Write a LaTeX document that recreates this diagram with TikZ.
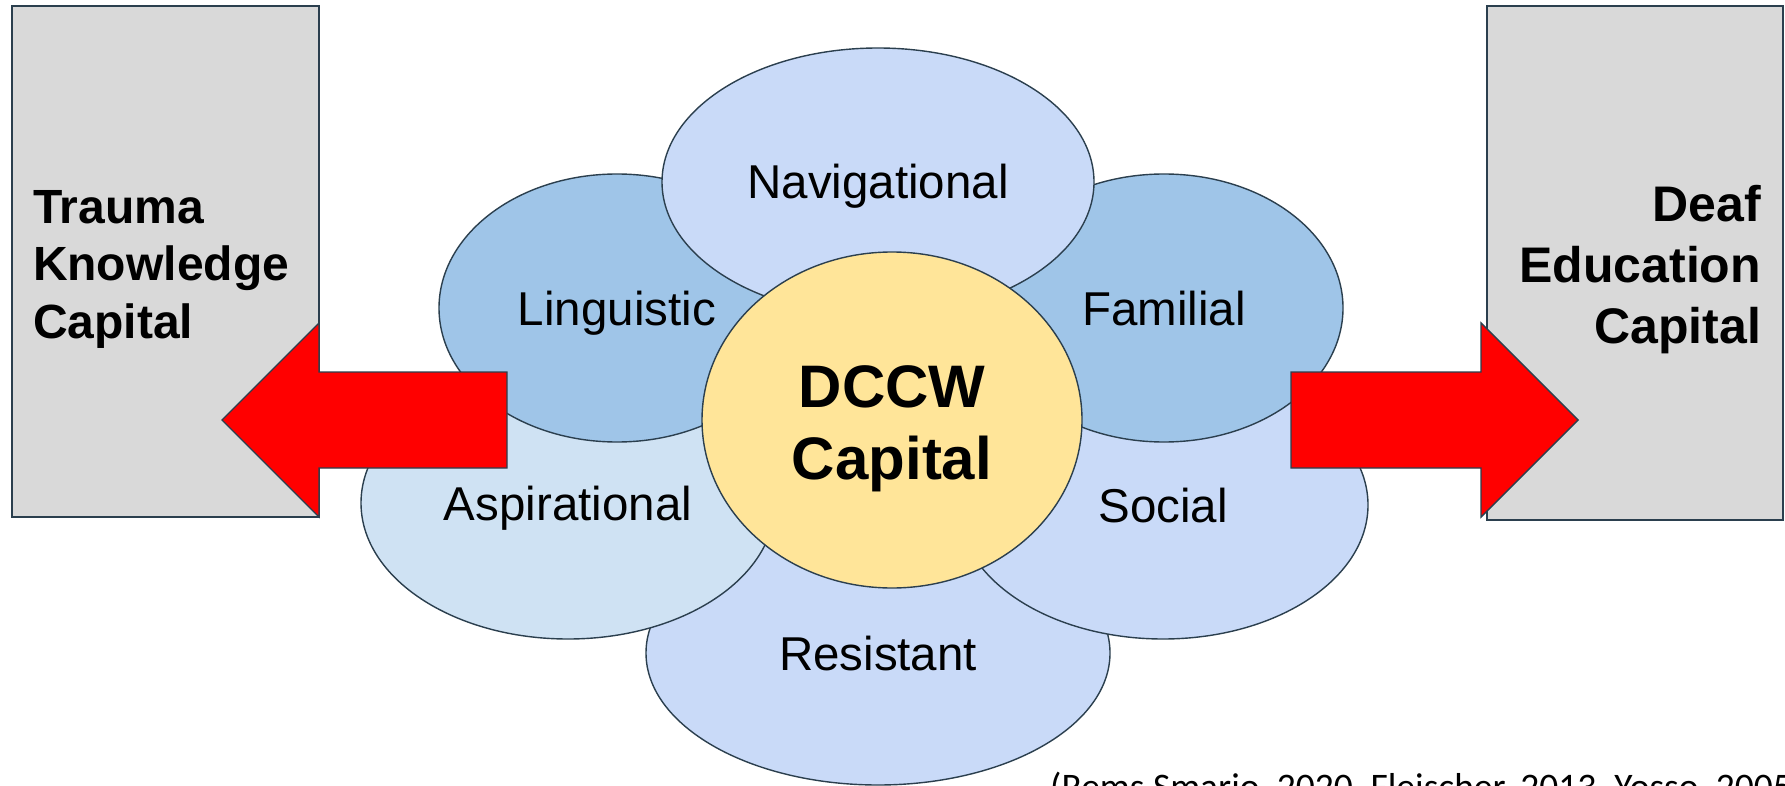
\documentclass[tikz,border=0pt]{standalone}
\usepackage{fontspec}
\setmainfont{Liberation Sans}
\newfontfamily\citefont{Carlito}
\usetikzlibrary{shapes.geometric}
\definecolor{edgec}{HTML}{2B3F4E}
\definecolor{petalA}{HTML}{C9DAF8}
\definecolor{petalB}{HTML}{9FC5E8}
\definecolor{petalC}{HTML}{CFE2F3}
\definecolor{corefill}{HTML}{FFE599}
\definecolor{boxfill}{HTML}{D9D9D9}
\definecolor{arrowred}{HTML}{FF0000}
\begin{document}
\begin{tikzpicture}[x=1pt,y=-1pt,
  petal/.style={ellipse, draw=edgec, line width=1.4pt, inner sep=0pt, outer sep=0pt,
    font=\fontsize{47.5}{57}\selectfont, text height=34pt, text depth=0pt},
  corestyle/.style={ellipse, draw=edgec, line width=1.4pt, inner sep=0pt, outer sep=0pt, fill=corefill},
  sidebox/.style={rectangle, draw=edgec, line width=1.4pt, fill=boxfill, inner sep=0pt, outer sep=0pt},
  bigarrow/.style={draw=edgec, line width=1.4pt, fill=arrowred, line join=miter},
  boxtext/.style={inner sep=0pt, outer sep=0pt},
]
\useasboundingbox (0,0) rectangle (1785,786);
\fill[white] (0,0) rectangle (1785,786);
\clip (0,0) rectangle (1785,786);

% petals
\node[petal, fill=petalA, minimum width=464pt, minimum height=264pt] (res) at (878,653) {Resistant};
\node[petal, fill=petalC, minimum width=414pt, minimum height=272pt] (asp) at (568,503) {Aspirational};
\node[petal, fill=petalA, minimum width=410pt, minimum height=268pt] (soc) at (1163,505) {Social};
\node[petal, fill=petalB, minimum width=356pt, minimum height=268pt] (lin) at (617,308) {Linguistic};
\node[petal, fill=petalB, minimum width=358pt, minimum height=268pt] (fam) at (1164,308) {Familial};
\node[petal, fill=petalA, minimum width=432pt, minimum height=268pt] (nav) at (878,182) {Navigational};

% core
\node[corestyle, minimum width=380pt, minimum height=336pt] (core) at (892,420) {};
\node[inner sep=0pt, anchor=base, align=center, font=\bfseries\fontsize{60}{72}\selectfont] (corelbl) at (892,479) {DCCW\\Capital};

% side boxes
\node[sidebox, minimum width=307pt, minimum height=511pt] (leftbox) at (165.5,261.5) {};
\node[sidebox, minimum width=296pt, minimum height=514pt] (rightbox) at (1635,263) {};

% block arrows
\draw[bigarrow] (507,372) -- (319,372) -- (319,323) -- (222,420) -- (319,517) -- (319,468) -- (507,468) -- cycle;
\draw[bigarrow] (1291,372) -- (1481,372) -- (1481,323) -- (1578,420) -- (1481,517) -- (1481,468) -- (1291,468) -- cycle;

% box labels (anchor = baseline of last line)
\node[boxtext, anchor=base west, align=left, font=\bfseries\fontsize{48}{57.5}\selectfont] (tklabel) at (33,338) {Trauma\\Knowledge\\Capital};
\node[boxtext, anchor=base east, align=right, font=\bfseries\fontsize{50}{61}\selectfont] (delabel) at (1761,343) {Deaf\\Education\\Capital};

% citation
\node[inner sep=0pt, anchor=base west, font=\citefont\fontsize{37.5}{45}\selectfont] (cite) at (1050,799) {(Rems Smario, 2020, Fleischer, 2013, Yosso, 2005)};
\end{tikzpicture}
\end{document}
